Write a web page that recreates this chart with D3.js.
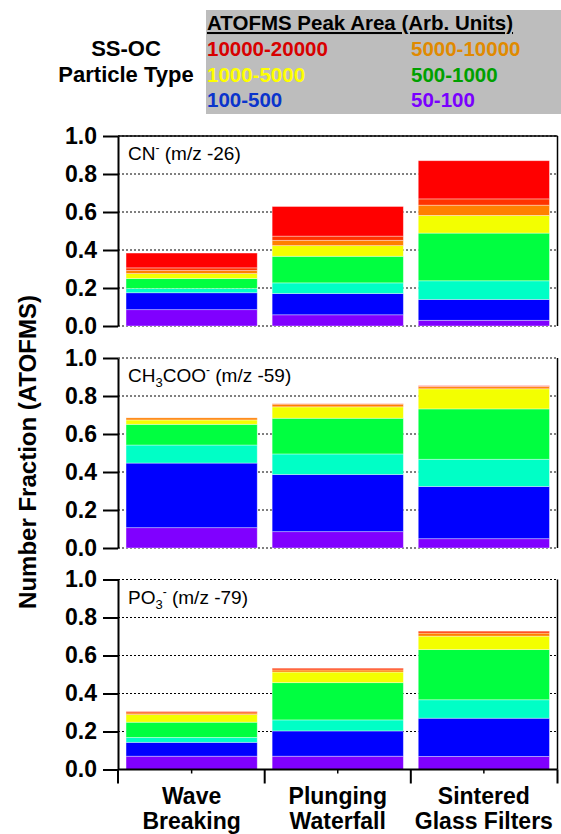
<!DOCTYPE html>
<html><head><meta charset="utf-8">
<script src="https://cdn.jsdelivr.net/npm/d3@7"></script>
<style>html,body{margin:0;padding:0;background:#fff;}svg{display:block;}</style>
</head><body>
<script>
// ---- data ----
const categories = ["Wave Breaking", "Plunging Waterfall", "Sintered Glass Filters"];
const categoryLines = [["Wave", "Breaking"], ["Plunging", "Waterfall"], ["Sintered", "Glass Filters"]];
// stacked segment keys (bottom -> top)
const segKeys = ["s1", "s2", "s3", "s4", "s5", "s6", "s7", "s8"];
const segColors = ["#8000ff", "#0000ff", "#00ffc6", "#00ff40", "#f3ff00", "#ff8000", "#ff3300", "#ff0000"];
const panelNames = ["CN", "CH3COO", "PO3"];
// segment fractions per category (bottom -> top)
const cnValues = [
  [0.086, 0.089, 0.022, 0.053, 0.026, 0.016, 0.014, 0.078],
  [0.059, 0.112, 0.056, 0.140, 0.056, 0.028, 0.022, 0.156],
  [0.030, 0.110, 0.098, 0.251, 0.093, 0.054, 0.033, 0.201]
];
const ch3cooValues = [
  [0.107, 0.340, 0.095, 0.109, 0.023, 0.011, 0.000, 0.000],
  [0.086, 0.301, 0.108, 0.188, 0.060, 0.014, 0.002, 0.000],
  [0.049, 0.275, 0.143, 0.265, 0.106, 0.011, 0.003, 0.002]
];
const po3Values = [
  [0.070, 0.073, 0.026, 0.080, 0.040, 0.009, 0.007, 0.000],
  [0.070, 0.133, 0.058, 0.196, 0.056, 0.011, 0.009, 0.000],
  [0.069, 0.201, 0.097, 0.264, 0.071, 0.016, 0.010, 0.000]
];
const panelValues = [cnValues, ch3cooValues, po3Values];
const yTicks = [0, 0.2, 0.4, 0.6, 0.8, 1.0];
const legendTitle = "ATOFMS Peak Area (Arb. Units)";
const legendLabels = ["10000-20000", "5000-10000", "1000-5000", "500-1000", "100-500", "50-100"];
const legendColors = ["#d80000", "#e08a00", "#ffff00", "#00a000", "#0a34cc", "#7a00ff"];

// ---- layout ----
const W = 561, H = 834;
const FONT = "'Liberation Sans', Arial, Helvetica, sans-serif";
const left = 118, right = 557.5;
const panelTops = [136, 358, 579.5];
const panelH = 190;

const svg = d3.select("body").append("svg").attr("width", W).attr("height", H)
  .style("font-family", FONT);

const x = d3.scaleBand().domain(categories).range([left, right]).paddingInner(0.102).paddingOuter(0.055);

// legend
svg.append("rect").attr("x", 206).attr("y", 10).attr("width", W - 206).attr("height", 104).attr("fill", "#bdbdbd");
svg.append("text").attr("x", 207).attr("y", 30).attr("font-size", 20.5).attr("font-weight", "bold")
  .attr("text-decoration", "underline").attr("fill", "#000").text(legendTitle);
legendLabels.forEach((lab, i) => {
  const col = i % 2, row = Math.floor(i / 2);
  svg.append("text").attr("x", col ? 411 : 207).attr("y", 56 + row * 25.5)
    .attr("font-size", 20.5).attr("font-weight", "bold").attr("fill", legendColors[i]).text(lab);
});
svg.append("text").attr("x", 126).attr("y", 56).attr("text-anchor", "middle").attr("font-size", 22)
  .attr("font-weight", "bold").text("SS-OC");
svg.append("text").attr("x", 126).attr("y", 82).attr("text-anchor", "middle").attr("font-size", 22)
  .attr("font-weight", "bold").text("Particle Type");

// panels
const stack = d3.stack().keys(segKeys);
panelValues.forEach((vals, p) => {
  const top = panelTops[p], bottom = top + panelH;
  const y = d3.scaleLinear().domain([0, 1]).range([bottom, top]);
  const g = svg.append("g");
  // grid
  g.selectAll("line.grid").data(yTicks).join("line")
    .attr("x1", left).attr("x2", right).attr("y1", d => y(d)).attr("y2", d => y(d))
    .attr("stroke", "#000").attr("stroke-width", 1).attr("stroke-dasharray", "2,2");
  // bars
  const rows = categories.map((c, i) => {
    const o = { cat: c };
    segKeys.forEach((k, j) => o[k] = vals[i][j]);
    return o;
  });
  const series = stack(rows);
  series.forEach((s, j) => {
    g.selectAll(null).data(s.filter(d => d[1] - d[0] > 0)).join("rect")
      .attr("x", d => x(d.data.cat)).attr("width", x.bandwidth())
      .attr("y", d => y(d[1])).attr("height", d => y(d[0]) - y(d[1]))
      .attr("fill", segColors[j]).attr("stroke", "rgba(255,255,255,0.45)").attr("stroke-width", 0.8);
  });
  // y axis
  const ax = g.append("g").attr("transform", `translate(${left},0)`)
    .call(d3.axisLeft(y).tickValues(yTicks).tickFormat(d3.format(".1f")).tickSize(15).tickSizeOuter(0).tickPadding(6));
  ax.select(".domain").attr("stroke-width", 2);
  ax.selectAll(".tick line").attr("stroke-width", 2);
  ax.selectAll(".tick text").attr("font-size", 23).attr("font-weight", "bold").attr("font-family", FONT).attr("fill", "#000");
  // right frame
  g.append("line").attr("x1", right).attr("x2", right).attr("y1", top).attr("y2", bottom)
    .attr("stroke", "#000").attr("stroke-width", 1.5);
  if (p === 0) {
    g.append("line").attr("x1", left).attr("x2", right).attr("y1", top).attr("y2", top)
      .attr("stroke", "#000").attr("stroke-width", 1.5);
  }
  // panel label
  const t = g.append("text").attr("x", 128).attr("y", top + 24).attr("font-size", 19).attr("fill", "#000");
  if (p === 0) {
    t.append("tspan").text("CN");
    t.append("tspan").attr("dy", -8).attr("font-size", 12).text("-");
    t.append("tspan").attr("dy", 8).text(" (m/z -26)");
  } else if (p === 1) {
    t.append("tspan").text("CH");
    t.append("tspan").attr("dy", 5).attr("font-size", 13).text("3");
    t.append("tspan").attr("dy", -5).text("COO");
    t.append("tspan").attr("dy", -8).attr("font-size", 12).text("-");
    t.append("tspan").attr("dy", 8).text(" (m/z -59)");
  } else {
    t.append("tspan").text("PO");
    t.append("tspan").attr("dy", 5).attr("font-size", 13).text("3");
    t.append("tspan").attr("dy", -13).attr("font-size", 12).text("-");
    t.append("tspan").attr("dy", 8).text(" (m/z -79)");
  }
  // bottom x axis on last panel
  if (p === panelValues.length - 1) {
    g.append("line").attr("x1", left).attr("x2", right).attr("y1", bottom).attr("y2", bottom)
      .attr("stroke", "#000").attr("stroke-width", 2);
    const step = x.step();
    const bounds = [left].concat(categories.slice(1).map(c => x(c) - (step - x.bandwidth()) / 2)).concat([right]);
    g.selectAll("line.maj").data(bounds).join("line")
      .attr("x1", d => d).attr("x2", d => d).attr("y1", bottom).attr("y2", bottom + 14)
      .attr("stroke", "#000").attr("stroke-width", 2);
    g.selectAll("line.min").data(categories).join("line")
      .attr("x1", d => x(d) + x.bandwidth() / 2).attr("x2", d => x(d) + x.bandwidth() / 2)
      .attr("y1", bottom).attr("y2", bottom + 4)
      .attr("stroke", "#000").attr("stroke-width", 1.5);
    categories.forEach((c, i) => {
      const cx = x(c) + x.bandwidth() / 2;
      categoryLines[i].forEach((ln, k) => {
        g.append("text").attr("x", cx).attr("y", 804 + k * 25).attr("text-anchor", "middle")
          .attr("font-size", 23).attr("font-weight", "bold").text(ln);
      });
    });
  }
});

// y title
svg.append("text").attr("transform", "translate(36,452) rotate(-90)").attr("text-anchor", "middle")
  .attr("font-size", 24).attr("font-weight", "bold").text("Number Fraction (ATOFMS)");
</script>
</body></html>
